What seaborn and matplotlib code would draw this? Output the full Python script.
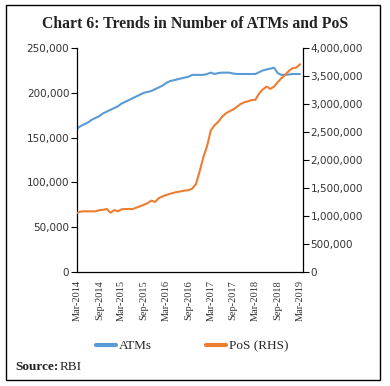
import numpy as np
import pandas as pd
import matplotlib
matplotlib.use("Agg")
import matplotlib.pyplot as plt
import seaborn as sns
from matplotlib.patches import Rectangle
from matplotlib.lines import Line2D

sns.set_style("white")

months = list(range(61))
tick_labels = ["Mar-2014", "Sep-2014", "Mar-2015", "Sep-2015", "Mar-2016", "Sep-2016",
               "Mar-2017", "Sep-2017", "Mar-2018", "Sep-2018", "Mar-2019"]

atms = [160, 163, 165, 167, 170, 172, 174, 177, 179, 181,
        183, 185, 188, 190, 192, 194, 196, 198, 200, 201,
        202, 204, 206, 208, 211, 213, 214, 215, 216, 217,
        218, 220, 220, 220, 220, 221, 222.5, 221, 222, 222.5,
        222.5, 222.5, 221.5, 221, 221, 221, 221, 221, 221, 223,
        225, 226, 227, 228, 222, 220, 220, 220.5, 221, 221, 221]
atms = [v * 1000 for v in atms]

pos = [1055, 1080, 1083, 1083, 1083, 1083, 1105, 1110, 1125, 1059,
       1105, 1085, 1120, 1125, 1125, 1125, 1150, 1175, 1200, 1230,
       1275, 1250, 1320, 1350, 1375, 1395, 1415, 1430, 1440, 1455,
       1460, 1490, 1570, 1800, 2050, 2250, 2530, 2620, 2680, 2770,
       2830, 2870, 2900, 2950, 3000, 3030, 3050, 3070, 3075, 3190,
       3260, 3310, 3270, 3310, 3390, 3460, 3520, 3590, 3640, 3650, 3710]
pos = [v * 1000 for v in pos]

df = pd.DataFrame({"m": months, "ATMs": atms, "PoS": pos})

blue = "#5B9BD5"
orange = "#ED7D31"

fig = plt.figure(figsize=(3.9, 3.86), dpi=100)
ax = fig.add_axes([77/390, 1 - 272/386, (303 - 77)/390, (272 - 48)/386])
ax2 = ax.twinx()

sns.lineplot(data=df, x="m", y="ATMs", ax=ax, color=blue, linewidth=1.5)
sns.lineplot(data=df, x="m", y="PoS", ax=ax2, color=orange, linewidth=1.5)

ax.set_xlim(0, 60.8)
ax.set_ylim(0, 250000)
ax2.set_ylim(0, 4000000)
ax.set_yticks(np.arange(0, 250001, 50000))
ax2.set_yticks(np.arange(0, 4000001, 500000))
ax.yaxis.set_major_formatter(matplotlib.ticker.FuncFormatter(lambda v, p: f"{int(v):,}"))
ax2.yaxis.set_major_formatter(matplotlib.ticker.FuncFormatter(lambda v, p: f"{int(v):,}"))
ax.set_xticks(list(range(0, 61, 6)))
ax.set_xticklabels(tick_labels, rotation=90, fontfamily="Liberation Serif", fontsize=10.5, color="#222222")

for a in (ax, ax2):
    a.set_xlabel("")
    a.set_ylabel("")
    a.spines["top"].set_visible(False)
    for s in ("left", "right", "bottom"):
        a.spines[s].set_color("black")
        a.spines[s].set_linewidth(0.9)
    a.tick_params(axis="both", direction="out", length=4, width=0.8, color="black",
                  labelsize=7.5, labelcolor="#333333", pad=1.5)
    a.grid(False)
ax.spines["right"].set_visible(False)
ax2.spines["left"].set_visible(False)
ax2.spines["bottom"].set_visible(False)
ax.tick_params(axis="x", pad=2)

fig.text(0.5, 1 - 24/386, "Chart 6: Trends in Number of ATMs and PoS", ha="center", va="center",
         fontfamily="Liberation Serif", fontweight="bold", fontsize=11.3, color="#222222")

handles = [Line2D([], [], color=blue, linewidth=3), Line2D([], [], color=orange, linewidth=3)]
fig.legend(handles, ["ATMs", "PoS (RHS)"], loc="center", bbox_to_anchor=(192.5/390, 1 - 346/386),
           ncol=2, frameon=False, prop={"family": "Liberation Serif", "size": 9.5},
           columnspacing=4.1, handlelength=1.5, handletextpad=0.25)

fig.text(15/390, 1 - 367/386, "Source:", fontfamily="Liberation Serif", fontweight="bold",
         fontsize=9.5, va="center", ha="left", color="#222222")
fig.text(60/390, 1 - 367/386, "RBI", fontfamily="Liberation Serif",
         fontsize=9.5, va="center", ha="left", color="#222222")

fig.patches.append(Rectangle((5.5/390, 1 - 379.5/386), (380 - 5.5)/390, (379.5 - 4.5)/386,
                             transform=fig.transFigure, fill=False, edgecolor="black", linewidth=1.0))

fig.savefig("out.png", dpi=100)
